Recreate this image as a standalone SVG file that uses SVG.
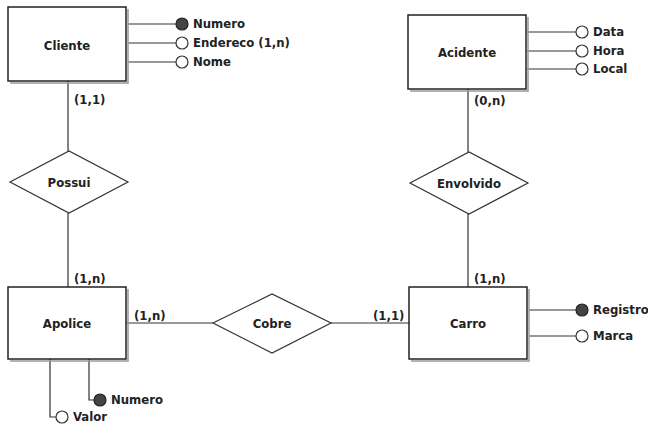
<svg xmlns="http://www.w3.org/2000/svg" width="648" height="425" viewBox="0 0 648 425">
<style>
text{font-family:"DejaVu Sans","Liberation Sans",sans-serif;font-stretch:condensed;font-weight:bold;font-size:13px;fill:#222}
.ent{fill:#fff;stroke:#222;stroke-width:1.5}
.sh{fill:none;stroke:#999;stroke-width:1.5}
.rel{fill:#fff;stroke:#333;stroke-width:1.2}
.ln{stroke:#333;stroke-width:1.2;fill:none}
.att{fill:#fff;stroke:#333;stroke-width:1.2}
.key{fill:#444;stroke:#222;stroke-width:1.2}
.c{text-anchor:middle}
</style>
<rect width="648" height="425" fill="#fff"/>
<g id="connectors">
<path class="ln" d="M68,81V151M68,213V287M468,89V152M468,214V287M126,323H213M331,323H409"/>
<path class="ln" d="M128,24H176M128,43H176M128,62H176"/>
<path class="ln" d="M527,32H576M527,51H576M527,69H576"/>
<path class="ln" d="M529,310H576M529,336H576"/>
<path class="ln" d="M50,359V417H56M89,359V400H94"/>
</g>
<g id="cliente">
<path class="sh" d="M10,83H128V9"/>
<rect class="ent" x="8" y="7" width="118" height="74"/>
<text class="c" x="67" y="50">Cliente</text>
</g>
<g id="acidente">
<path class="sh" d="M410,91H528V17"/>
<rect class="ent" x="408" y="15" width="118" height="74"/>
<text class="c" x="467" y="57">Acidente</text>
</g>
<g id="apolice">
<path class="sh" d="M10,361H128V289"/>
<rect class="ent" x="8" y="287" width="118" height="72"/>
<text class="c" x="67" y="328">Apolice</text>
</g>
<g id="carro">
<path class="sh" d="M411,361H529V289"/>
<rect class="ent" x="409" y="287" width="118" height="72"/>
<text class="c" x="468" y="328">Carro</text>
</g>
<g id="possui">
<polygon class="rel" points="10,182 69,151 128,182 69,213"/>
<text class="c" x="69" y="187">Possui</text>
</g>
<g id="envolvido">
<polygon class="rel" points="410,183 469,152 528,183 469,214"/>
<text class="c" x="469" y="188">Envolvido</text>
</g>
<g id="cobre">
<polygon class="rel" points="213,323 272,294 331,323 272,353"/>
<text class="c" x="272" y="328">Cobre</text>
</g>
<g id="cardinalities">
<text x="74" y="104">(1,1)</text>
<text x="474" y="105">(0,n)</text>
<text x="74" y="283">(1,n)</text>
<text x="474" y="283">(1,n)</text>
<text x="134" y="320">(1,n)</text>
<text x="373" y="320">(1,1)</text>
</g>
<g id="attr-cliente">
<circle class="key" cx="182" cy="24" r="6"/><text x="193" y="28">Numero</text>
<circle class="att" cx="182" cy="43" r="6"/><text x="193" y="47">Endereco (1,n)</text>
<circle class="att" cx="182" cy="62" r="6"/><text x="193" y="66">Nome</text>
</g>
<g id="attr-acidente">
<circle class="att" cx="582" cy="32" r="6"/><text x="593" y="36">Data</text>
<circle class="att" cx="582" cy="51" r="6"/><text x="593" y="55">Hora</text>
<circle class="att" cx="582" cy="69" r="6"/><text x="593" y="73">Local</text>
</g>
<g id="attr-carro">
<circle class="key" cx="582" cy="310" r="6"/><text x="593" y="314">Registro</text>
<circle class="att" cx="582" cy="336" r="6"/><text x="593" y="340">Marca</text>
</g>
<g id="attr-apolice">
<circle class="key" cx="100" cy="400" r="6"/><text x="111" y="404">Numero</text>
<circle class="att" cx="62" cy="417" r="6"/><text x="73" y="421">Valor</text>
</g>
</svg>
